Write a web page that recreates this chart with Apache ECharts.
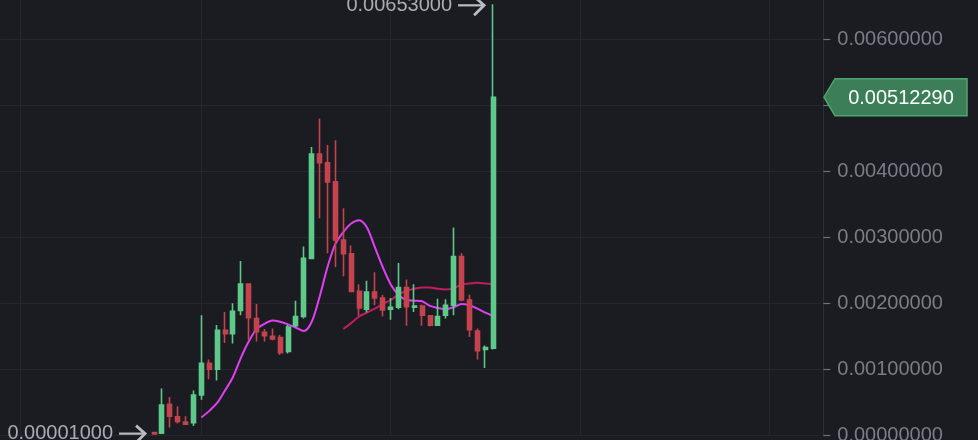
<!DOCTYPE html>
<html><head><meta charset="utf-8">
<script src="https://cdn.jsdelivr.net/npm/echarts@6/dist/echarts.min.js"></script>
<style>html,body{margin:0;padding:0;background:#1b1c21;overflow:hidden}#c{width:978px;height:440px}</style>
</head><body><div id="c"></div>
<script>
// ---- data ----
const leadSlots = 19;   // empty slots before first candle
const trailSlots = 41;  // empty slots after last candle
// [open, close, low, high]
const candleOHLC = [
  [0.00004,0.00002,0.00001,0.00004],
  [0.00003,0.00046,0.00002,0.00071],
  [0.00047,0.00029,0.00012,0.00058],
  [0.00028,0.00021,0.00018,0.00044],
  [0.00020,0.00017,0.00016,0.00029],
  [0.00019,0.00061,0.00014,0.00068],
  [0.00061,0.00109,0.00054,0.00182],
  [0.00109,0.00100,0.00085,0.00115],
  [0.00100,0.00159,0.00083,0.00167],
  [0.00159,0.00154,0.00140,0.00187],
  [0.00154,0.00188,0.00139,0.00200],
  [0.00189,0.00229,0.00182,0.00264],
  [0.00229,0.00178,0.00144,0.00229],
  [0.00177,0.00157,0.00142,0.00199],
  [0.00156,0.00151,0.00142,0.00161],
  [0.00150,0.00146,0.00144,0.00162],
  [0.00148,0.00125,0.00122,0.00152],
  [0.00127,0.00164,0.00124,0.00167],
  [0.00166,0.00180,0.00164,0.00204],
  [0.00180,0.00268,0.00177,0.00286],
  [0.00268,0.00426,0.00267,0.00437],
  [0.00426,0.00413,0.00329,0.00480],
  [0.00413,0.00384,0.00276,0.00440],
  [0.00384,0.00296,0.00255,0.00447],
  [0.00296,0.00275,0.00241,0.00344],
  [0.00275,0.00218,0.00218,0.00288],
  [0.00218,0.00193,0.00181,0.00229],
  [0.00191,0.00217,0.00186,0.00234],
  [0.00217,0.00208,0.00197,0.00247],
  [0.00208,0.00190,0.00180,0.00213],
  [0.00191,0.00194,0.00175,0.00208],
  [0.00194,0.00224,0.00191,0.00261],
  [0.00224,0.00195,0.00166,0.00236],
  [0.00194,0.00196,0.00187,0.00229],
  [0.00196,0.00182,0.00166,0.00198],
  [0.00181,0.00167,0.00165,0.00182],
  [0.00167,0.00180,0.00166,0.00207],
  [0.00182,0.00197,0.00177,0.00206],
  [0.00197,0.00271,0.00182,0.00315],
  [0.00271,0.00205,0.00203,0.00276],
  [0.00205,0.00160,0.00149,0.00213],
  [0.00158,0.00128,0.00115,0.00162],
  [0.00130,0.00133,0.00102,0.00136],
  [0.00132,0.0051229,0.00130,0.00653]
];
const maFastStart = 6;
const maFast = [0.00027,0.00037,0.00049,0.00068,0.00088,0.00117,0.00142,0.00161,0.00169,0.00174,
  0.00172,0.00168,0.00163,0.00158,0.00172,0.00210,0.00255,0.00290,0.00308,0.00321,
  0.00326,0.00315,0.00285,0.00255,0.00229,0.00213,0.00205,0.00204,0.00203,0.00196,
  0.00193,0.00191,0.00194,0.00199,0.00197,0.00192,0.00186,0.00181];
const maSlowStart = 24;
const maSlow = [0.00161,0.00170,0.00180,0.00186,0.00192,0.00199,0.00205,0.00213,0.00219,0.00222,
  0.00224,0.00224,0.00222,0.00221,0.00223,0.00228,0.00230,0.00231,0.00230,0.00229];
const yMin = 0, yMax = 0.007, yStep = 0.001;
const vGridSlots = [2, 25, 49, 73, 97];
const lastPrice = 0.0051229;
const lastPriceText = '0.00512290';
const extremeIdx = [43, 0];
const extremeVal = [0.00653, 0.00001];
const extremeText = ['0.00653000', '0.00001000'];

// ---- build ----
const nSlots = leadSlots + candleOHLC.length + trailSlots;
const slotNames = Array.from({length: nSlots}, (_, i) => 'S' + i);
const pad = (arr, start) => {
  const out = new Array(nSlots).fill('-');
  arr.forEach((v, i) => { out[leadSlots + start + i] = v; });
  return out;
};
const candleData = pad(candleOHLC, 0);
const fastData = pad(maFast, maFastStart);
const slowData = pad(maSlow, maSlowStart);

const FONT = '"Liberation Sans", Arial, sans-serif';
const chart = echarts.init(document.getElementById('c'), null, {renderer: 'canvas'});
chart.setOption({
  backgroundColor: '#1b1c21',
  animation: false,
  grid: {left: 0.3, right: 157.7, top: -26.7, bottom: 4.7, containLabel: false, outerBoundsMode: 'none'},
  xAxis: {
    type: 'category', data: slotNames, boundaryGap: true,
    axisLine: {show: false}, axisTick: {show: false}, axisLabel: {show: false},
    splitLine: {show: false}
  },
  yAxis: {
    type: 'value', position: 'right', offset: 3,
    min: yMin, max: yMax, interval: yStep, scale: false,
    axisLine: {show: true, lineStyle: {color: '#2c2e35', width: 1}},
    axisTick: {show: true, length: 7, lineStyle: {color: '#6e717a', width: 1.2}},
    axisLabel: {color: '#7a7d86', fontSize: 20, fontFamily: FONT, margin: 14,
      formatter: v => v.toFixed(8)},
    splitLine: {show: true, lineStyle: {color: '#25272d', width: 1}}
  },
  series: [
    {
      type: 'line', data: slowData, z: 2, symbol: 'none', smooth: 0.3,
      lineStyle: {color: '#c01c60', width: 2},
      markLine: {
        silent: true, symbol: 'none', z: 1, label: {show: false},
        lineStyle: {color: '#25272d', width: 1, type: 'solid'},
        data: vGridSlots.map(i => ({xAxis: i}))
      }
    },
    {
      type: 'line', data: fastData, z: 2, symbol: 'none', smooth: 0.3,
      lineStyle: {color: '#e03ff2', width: 2}
    },
    {
      type: 'candlestick', data: candleData, z: 3, barWidth: 4.5,
      itemStyle: {color: '#5ec98b', color0: '#c4434f', borderColor: '#5ec98b', borderColor0: '#c4434f', borderWidth: 1.6}
    },
    {
      type: 'custom', z: 10, clip: false, silent: true,
      data: extremeIdx.map((k, j) => [leadSlots + k, extremeVal[j]]),
      renderItem: (params, api) => {
        const p = api.coord([api.value(0), api.value(1)]);
        const col = '#b9bcc3';
        const y = p[1] + (params.dataIndex === 0 ? 1 : -1);
        const tip = p[0] - 9, start = p[0] - 35;
        return {type: 'group', children: [
          {type: 'line', shape: {x1: start, y1: y, x2: tip - 1, y2: y}, style: {stroke: col, lineWidth: 2.2}},
          {type: 'polyline', shape: {points: [[tip - 9, y - 8], [tip, y], [tip - 10, y + 10]]},
            style: {stroke: col, lineWidth: 2.8, fill: null}},
          {type: 'text', style: {x: start - 6, y: y, text: extremeText[params.dataIndex],
            align: 'right', verticalAlign: 'middle', fill: '#a9acb4', fontSize: 20, fontFamily: FONT}}
        ]};
      }
    },
    {
      type: 'custom', z: 10, clip: false, silent: true,
      data: [[leadSlots + candleOHLC.length - 1, lastPrice]],
      renderItem: (params, api) => {
        const p = api.coord([api.value(0), api.value(1)]);
        const cs = params.coordSys;
        const tip = cs.x + cs.width + 3.7;
        const y = p[1], h = 18.5;
        return {type: 'group', children: [
          {type: 'polygon', shape: {points: [[tip, y], [tip + 11, y - h], [tip + 143, y - h], [tip + 143, y + h], [tip + 11, y + h]]},
            style: {fill: '#3c7e57', stroke: '#4fa56f', lineWidth: 1.5}},
          {type: 'text', style: {x: tip + 77, y: y + 1, text: lastPriceText, align: 'center', verticalAlign: 'middle',
            fill: '#ffffff', fontSize: 20, fontFamily: FONT}}
        ]};
      }
    }
  ]
});
</script></body></html>
